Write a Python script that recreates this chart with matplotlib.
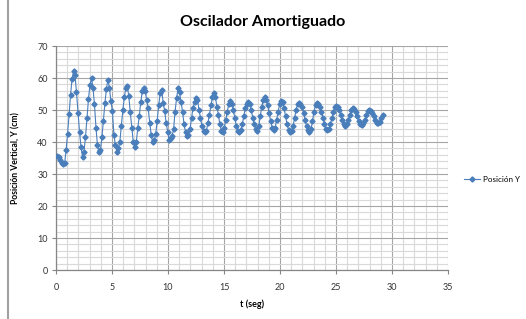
import matplotlib
matplotlib.use("Agg")
import matplotlib.pyplot as plt
from matplotlib.lines import Line2D

title = "Oscilador Amortiguado"
xlabel = "t (seg)"
ylabel = "Posición Vertical, Y (cm)"
series_name = "Posición Y"

t = [0.10, 0.23, 0.37, 0.50, 0.63, 0.77, 0.90, 1.03, 1.17, 1.30, 1.43, 1.57, 1.70, 1.83, 1.97,
     2.10, 2.23, 2.37, 2.50, 2.63, 2.77, 2.90, 3.03, 3.17, 3.30, 3.43, 3.57, 3.70, 3.83, 3.97,
     4.10, 4.23, 4.37, 4.50, 4.63, 4.77, 4.90, 5.03, 5.17, 5.30, 5.43, 5.57, 5.70, 5.83, 5.97,
     6.10, 6.23, 6.37, 6.50, 6.63, 6.77, 6.90, 7.03, 7.17, 7.30, 7.43, 7.57, 7.70, 7.83, 7.97,
     8.10, 8.23, 8.37, 8.50, 8.63, 8.77, 8.90, 9.03, 9.17, 9.30, 9.43, 9.57, 9.70, 9.83, 9.97,
     10.10, 10.23, 10.37, 10.50, 10.63, 10.77, 10.90, 11.03, 11.17, 11.30, 11.43, 11.57, 11.70, 11.83, 11.97,
     12.10, 12.23, 12.37, 12.50, 12.63, 12.77, 12.90, 13.03, 13.17, 13.30, 13.43, 13.57, 13.70, 13.83, 13.97,
     14.10, 14.23, 14.37, 14.50, 14.63, 14.77, 14.90, 15.03, 15.17, 15.30, 15.43, 15.57, 15.70, 15.83, 15.97,
     16.10, 16.23, 16.37, 16.50, 16.63, 16.77, 16.90, 17.03, 17.17, 17.30, 17.43, 17.57, 17.70, 17.83, 17.97,
     18.10, 18.23, 18.37, 18.50, 18.63, 18.77, 18.90, 19.03, 19.17, 19.30, 19.43, 19.57, 19.70, 19.83, 19.97,
     20.10, 20.23, 20.37, 20.50, 20.63, 20.77, 20.90, 21.03, 21.17, 21.30, 21.43, 21.57, 21.70, 21.83, 21.97,
     22.10, 22.23, 22.37, 22.50, 22.63, 22.77, 22.90, 23.03, 23.17, 23.30, 23.43, 23.57, 23.70, 23.83, 23.97,
     24.10, 24.23, 24.37, 24.50, 24.63, 24.77, 24.90, 25.03, 25.17, 25.30, 25.43, 25.57, 25.70, 25.83, 25.97,
     26.10, 26.23, 26.37, 26.50, 26.63, 26.77, 26.90, 27.03, 27.17, 27.30, 27.43, 27.57, 27.70, 27.83, 27.97,
     28.10, 28.23, 28.37, 28.50, 28.63, 28.77, 28.90, 29.03, 29.17]

y = [35.5, 35.2, 34.3, 33.4, 33.0,
     33.3, 37.5, 42.5, 48.6, 54.8, 59.6, 62.2,
     60.8, 55.5, 49.0, 43.2, 38.5, 35.3,
     37.0, 41.5, 47.5, 53.5, 57.8, 60.0,
     57.0, 52.0, 44.5, 39.0, 36.8,
     37.5, 41.5, 46.5, 52.2, 56.5, 59.5,
     57.0, 52.8, 49.8, 42.3, 39.0, 37.0,
     38.0, 40.0, 45.0, 50.0, 54.0, 56.8, 57.5,
     54.3, 49.3, 44.5, 40.0, 38.5,
     40.0, 44.3, 48.0, 52.5, 55.8, 56.8,
     55.8, 53.0, 50.5, 46.0, 42.3, 40.0,
     40.5, 42.5, 46.5, 51.5, 55.2, 56.4,
     52.3, 49.8, 46.0, 43.2, 40.7,
     41.2, 42.0, 44.0, 49.5, 53.8, 56.8,
     55.5, 52.5, 49.5, 45.5, 43.0, 42.0,
     42.3, 44.0, 47.5, 50.5, 52.5, 53.8,
     53.2, 50.0, 47.5, 45.0, 43.5, 43.0,
     43.5, 46.0, 48.5, 51.5, 54.0, 55.4,
     54.0, 51.0, 48.5, 45.5, 43.5, 43.2,
     44.5, 47.0, 49.5, 52.0, 52.8,
     52.0, 50.0, 47.5, 45.0, 43.5, 43.2,
     43.8, 45.5, 48.0, 50.5, 52.0, 52.5,
     52.0, 50.0, 47.5, 45.5, 44.0, 43.5,
     45.0, 48.0, 51.0, 53.2, 54.0,
     53.0, 51.5, 49.0, 46.5, 44.5, 43.6,
     44.5, 47.0, 49.5, 51.8, 52.9,
     52.5, 50.5, 48.0, 45.5, 43.8, 43.2,
     43.5, 45.0, 47.5, 50.0, 51.8, 52.3,
     52.0, 51.0, 49.0, 47.0, 45.0, 43.7, 43.2,
     44.0, 46.5, 49.5, 51.5, 52.3,
     52.0, 51.0, 49.5, 47.5, 45.5, 44.2, 43.8,
     44.2, 45.5, 47.5, 49.5, 50.8, 51.3,
     51.0, 50.0, 48.5, 47.0, 45.5, 45.0,
     45.5, 47.0, 48.5, 50.0, 50.5,
     50.3, 49.5, 48.0, 46.5, 45.5, 45.3,
     45.8, 47.0, 48.5, 49.6, 50.0,
     49.8, 49.0, 48.0, 46.8, 46.0, 45.8,
     46.3, 47.5, 48.4]

xticks = [0, 5, 10, 15, 20, 25, 30, 35]
yticks = [0, 10, 20, 30, 40, 50, 60, 70]

n = min(len(t), len(y))

plt.rcParams['font.family'] = ['Lato', 'DejaVu Sans']
fig = plt.figure(figsize=(5.26, 3.19), dpi=100)
ax = fig.add_axes([56/526, 1-270/319, (448-56)/526, (270-46)/319])

blue = '#4A7EBB'
ax.plot(t[:n], y[:n], color=blue, lw=0.8, marker='D', ms=2.6, mec=blue, mfc=blue,
        label=series_name, zorder=3)

ax.set_xlim(0, 35)
ax.set_ylim(0, 70)
ax.set_xticks(xticks)
ax.set_yticks(yticks)
ax.set_xticks(range(0, 36, 1), minor=True)
ax.set_yticks(range(0, 71, 2), minor=True)
ax.grid(which='major', color='#A6A6A6', lw=0.8)
ax.grid(which='minor', color='#D9D9D9', lw=0.8)
ax.set_axisbelow(True)
for s in ['top', 'right']:
    ax.spines[s].set_visible(False)
for s in ['left', 'bottom']:
    ax.spines[s].set_color('#868686')
    ax.spines[s].set_linewidth(0.9)
ax.tick_params(which='major', length=3, color='#868686', labelsize=6.5, labelcolor='#333333', pad=3)
ax.tick_params(axis='x', pad=6)
ax.tick_params(which='minor', length=0)

ax.set_xlabel(xlabel, fontsize=6.5, fontweight='bold', labelpad=6)
ax.set_ylabel(ylabel, fontsize=6.2, fontweight='bold', labelpad=12)
fig.text(263/526, 1-22/319, title, ha='center', va='center', fontsize=11.5, fontweight='bold')

h = Line2D([], [], color=blue, lw=0.8, marker='D', ms=2.6)
fig.legend([h], [series_name], loc='center left', bbox_to_anchor=(461/526, 1-179/319),
           frameon=False, fontsize=5.8, handlelength=2.0, borderaxespad=0, handletextpad=0.3)

fig.add_artist(Line2D([8/526, 8/526], [0, 1], transform=fig.transFigure, color='#A0A0A0', lw=1.5))

fig.savefig('out.png', dpi=100)
